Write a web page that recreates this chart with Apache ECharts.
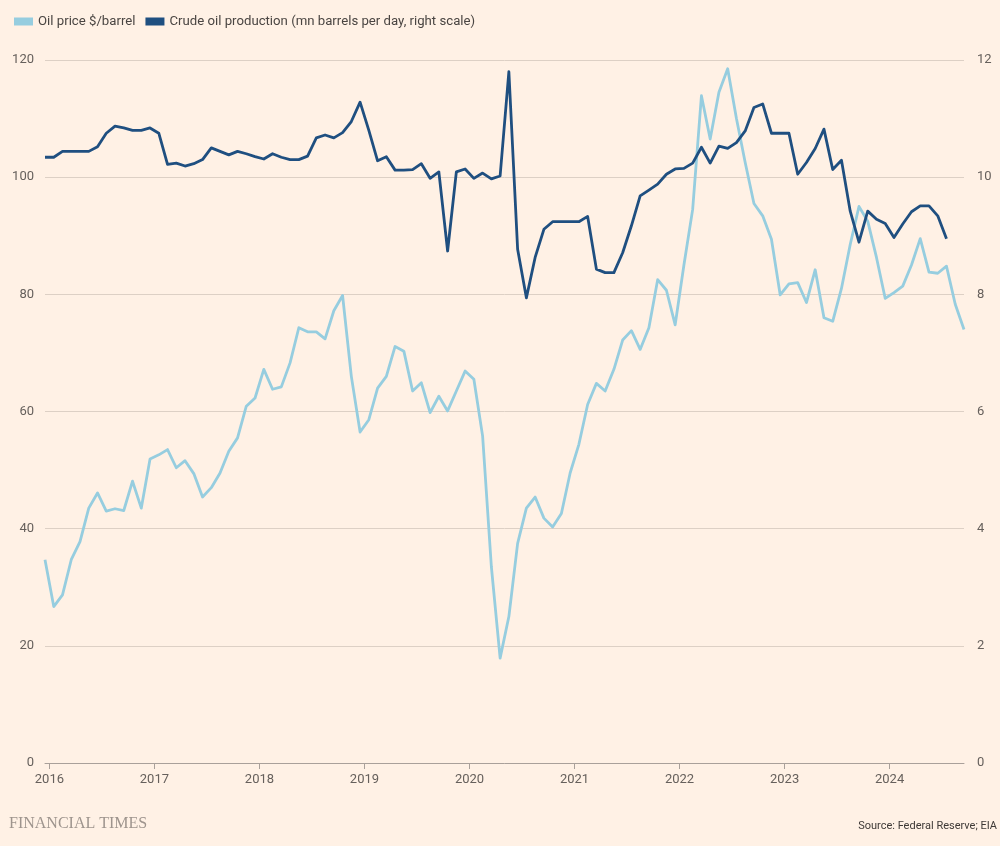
<!DOCTYPE html>
<html>
<head>
<meta charset="utf-8">
<script src="https://cdn.jsdelivr.net/npm/echarts@6/dist/echarts.min.js"></script>
<style>
  html, body { margin: 0; padding: 0; background: #FFF1E5; }
  #chart { width: 1000px; height: 846px; }
</style>
</head>
<body>
<div id="chart"></div>
<script>
// First monthly observation: December 2015 (plotted mid-month)
const startYear = 2015;
const startMonth = 12;

// Oil price, $/barrel (left scale), monthly
const oilPrice = [
  34.7, 26.7, 28.7, 34.7, 37.8, 43.5, 46.1, 43.0, 43.4, 43.1, 48.1, 43.5,
  51.9, 52.6, 53.5, 50.4, 51.6, 49.4, 45.4, 47.0, 49.5, 53.2, 55.5, 60.9,
  62.3, 67.2, 63.8, 64.2, 68.3, 74.3, 73.6, 73.6, 72.4, 77.2, 79.8, 66.0,
  56.5, 58.6, 64.0, 66.0, 71.1, 70.3, 63.5, 64.9, 59.8, 62.6, 60.1, 63.5,
  66.9, 65.5, 55.8, 33.5, 17.9, 25.0, 37.5, 43.5, 45.4, 41.8, 40.3, 42.6,
  49.5, 54.4, 61.2, 64.8, 63.5, 67.2, 72.2, 73.8, 70.6, 74.3, 82.5, 80.7,
  74.8, 85.0, 94.5, 113.9, 106.5, 114.5, 118.5, 110.0, 102.5, 95.5, 93.4, 89.4,
  79.9, 81.8, 82.0, 78.6, 84.2, 76.0, 75.4, 81.0, 88.5, 95.0, 92.5, 86.3,
  79.3, 80.3, 81.4, 85.0, 89.5, 83.8, 83.6, 84.8, 78.3, 74.0
];

// Crude oil production, mn barrels per day (right scale), monthly
const production = [
  10.34, 10.34, 10.44, 10.44, 10.44, 10.44, 10.52, 10.75, 10.87, 10.84, 10.80, 10.80,
  10.84, 10.75, 10.22, 10.24, 10.19, 10.23, 10.30, 10.50, 10.44, 10.38, 10.44, 10.40,
  10.35, 10.31, 10.40, 10.34, 10.30, 10.30, 10.36, 10.67, 10.72, 10.67, 10.76, 10.95,
  11.28, 10.80, 10.28, 10.35, 10.12, 10.12, 10.13, 10.23, 9.98, 10.09, 8.74, 10.09,
  10.14, 9.98, 10.07, 9.97, 10.02, 11.80, 8.77, 7.94, 8.63, 9.11, 9.24, 9.24,
  9.24, 9.24, 9.33, 8.43, 8.37, 8.37, 8.71, 9.17, 9.68, 9.78, 9.88, 10.05,
  10.14, 10.15, 10.24, 10.51, 10.24, 10.53, 10.49, 10.59, 10.79, 11.19, 11.25, 10.75,
  10.75, 10.75, 10.05, 10.25, 10.49, 10.82, 10.13, 10.29, 9.42, 8.89, 9.42, 9.28,
  9.21, 8.97, 9.20, 9.41, 9.51, 9.51, 9.34, 8.95
];

const yearTicks = [2016, 2017, 2018, 2019, 2020, 2021, 2022, 2023, 2024];
const leftTicks = [0, 20, 40, 60, 80, 100, 120];
const rightTicks = [0, 2, 4, 6, 8, 10, 12];

const seriesNames = ['Oil price $/barrel', 'Crude oil production (mn barrels per day, right scale)'];

function xOf(i) {
  return startYear + (startMonth - 1 + i + 0.5) / 12;
}
const priceData = oilPrice.map((v, i) => [xOf(i), v]);
const prodData = production.map((v, i) => [xOf(i), v]);

const LIGHT = '#96CDDF';
const DARK = '#1F4F80';
const LABEL = '#66605C';
const FONT = 'Roboto, "Noto Sans", sans-serif';

const chart = echarts.init(document.getElementById('chart'), null, { renderer: 'canvas' });
chart.setOption({
  backgroundColor: '#FFF1E5',
  animation: false,
  textStyle: { fontFamily: FONT },
  legend: {
    left: 9,
    top: 10,
    icon: 'rect',
    itemWidth: 19,
    itemHeight: 8,
    itemGap: 10,
    selectedMode: false,
    textStyle: { fontSize: 13.2, color: '#4A4542', fontFamily: FONT },
    data: seriesNames
  },
  grid: {
    left: 45,
    right: 36,
    top: 60,
    bottom: 83,
    containLabel: false,
    outerBoundsMode: 'none'
  },
  xAxis: {
    type: 'value',
    min: xOf(0),
    max: xOf(oilPrice.length - 1),
    splitLine: { show: false },
    axisLine: { show: true, lineStyle: { color: '#A9A09A', width: 1 } },
    axisTick: { show: true, length: 6, lineStyle: { color: '#A9A09A' }, customValues: yearTicks },
    axisLabel: {
      customValues: yearTicks,
      formatter: v => String(Math.round(v)),
      color: LABEL, fontSize: 13, margin: 10, fontFamily: FONT
    }
  },
  yAxis: [
    {
      type: 'value',
      min: leftTicks[0],
      max: leftTicks[leftTicks.length - 1],
      interval: 20,
      axisLine: { show: false },
      axisTick: { show: false },
      splitLine: { show: true, lineStyle: { color: '#DDD0C5', width: 1 } },
      axisLabel: { color: LABEL, fontSize: 13, margin: 11, fontFamily: FONT }
    },
    {
      type: 'value',
      position: 'right',
      min: rightTicks[0],
      max: rightTicks[rightTicks.length - 1],
      interval: 2,
      axisLine: { show: false },
      axisTick: { show: false },
      splitLine: { show: false },
      axisLabel: { color: LABEL, fontSize: 13, margin: 13, fontFamily: FONT }
    }
  ],
  series: [
    {
      name: seriesNames[0],
      type: 'line',
      yAxisIndex: 0,
      data: priceData,
      showSymbol: false,
      symbol: 'none',
      color: LIGHT,
      lineStyle: { color: LIGHT, width: 2.8, join: 'round' },
      z: 2
    },
    {
      name: seriesNames[1],
      type: 'line',
      yAxisIndex: 1,
      data: prodData,
      showSymbol: false,
      symbol: 'none',
      color: DARK,
      lineStyle: { color: DARK, width: 2.8, join: 'round' },
      z: 3
    }
  ],
  graphic: [
    {
      type: 'text',
      left: 9,
      top: 816,
      style: {
        text: 'FINANCIAL TIMES',
        font: '16px "Liberation Serif", "DejaVu Serif", serif',
        fill: '#9E948D'
      }
    },
    {
      type: 'text',
      right: 3,
      top: 821,
      style: {
        text: 'Source: Federal Reserve; EIA',
        font: '11px Roboto, "Noto Sans", sans-serif',
        fill: '#3E3936'
      }
    }
  ]
});
</script>
</body>
</html>
